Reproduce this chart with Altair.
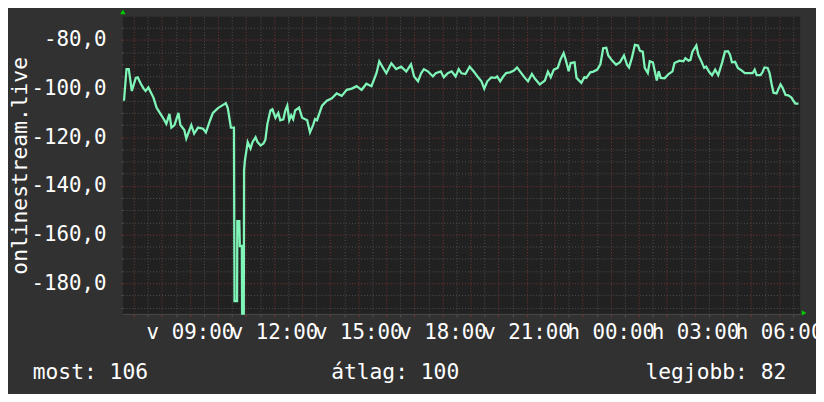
import altair as alt
import pandas as pd

# time in decimal hours since Sunday 00:00 (values > 24 are Monday)
hours = [6.65, 6.74, 6.82, 6.93, 7.07, 7.14, 7.25, 7.35, 7.42, 7.52, 7.70, 7.81, 7.95, 8.06, 8.16, 8.27, 8.34, 8.45,
         8.59, 8.66, 8.80, 8.87, 9.05, 9.15, 9.29, 9.47, 9.57, 9.72, 9.82, 10.00, 10.14, 10.28, 10.35, 10.46, 10.57,
         10.59, 10.68, 10.69, 10.76, 10.78, 10.85, 10.86, 10.92, 10.93, 10.96, 11.06, 11.16, 11.23, 11.34, 11.41,
         11.52, 11.62, 11.69, 11.76, 11.87, 11.94, 12.05, 12.15, 12.22, 12.33, 12.40, 12.47, 12.54, 12.61, 12.68,
         12.75, 12.89, 13.00, 13.18, 13.28, 13.39, 13.46, 13.53, 13.71, 13.88, 14.06, 14.23, 14.41, 14.59, 14.77,
         14.94, 15.12, 15.29, 15.47, 15.65, 15.75, 15.86, 16.00, 16.18, 16.35, 16.53, 16.71, 16.88, 16.99, 17.13,
         17.24, 17.34, 17.48, 17.66, 17.76, 17.94, 18.05, 18.19, 18.33, 18.47, 18.58, 18.68, 18.82, 18.97, 19.11,
         19.25, 19.39, 19.49, 19.60, 19.74, 19.88, 19.95, 20.06, 20.17, 20.27, 20.41, 20.55, 20.66, 20.77, 20.94,
         21.05, 21.19, 21.30, 21.47, 21.65, 21.76, 21.86, 21.97, 22.11, 22.21, 22.32, 22.39, 22.50, 22.57, 22.71,
         22.78, 22.95, 23.06, 23.13, 23.27, 23.38, 23.52, 23.63, 23.73, 23.84, 23.91, 24.05, 24.19, 24.33, 24.47,
         24.58, 24.65, 24.75, 24.86, 24.97, 25.04, 25.14, 25.21, 25.32, 25.39, 25.50, 25.57, 25.64, 25.71, 25.78,
         25.92, 26.06, 26.20, 26.27, 26.45, 26.59, 26.66, 26.77, 26.84, 26.91, 27.05, 27.12, 27.23, 27.33, 27.40,
         27.51, 27.61, 27.72, 27.83, 27.97, 28.07, 28.18, 28.25, 28.32, 28.43, 28.53, 28.67, 28.78, 28.92, 29.06,
         29.13, 29.20, 29.34, 29.41, 29.48, 29.59, 29.66, 29.73, 29.80, 29.91, 29.98, 30.05, 30.12, 30.23, 30.33,
         30.44, 30.51, 30.58, 30.69]

signal = [-105, -92, -92, -101, -95.6, -95.4, -98, -100, -101, -99.5, -103.7, -107.8, -110.4, -112.4, -114.5, -110.4,
          -116, -115, -110, -115, -117, -120.5, -115, -118.5, -116, -116.5, -118, -113, -110, -108, -107, -106, -108,
          -116, -116, -187.3, -187.3, -154.5, -154.5, -164.7, -164.7, -192.5, -192.5, -133.6, -129.5, -122, -124.6,
          -122, -120, -122, -123.4, -122.6, -121, -114.6, -109, -108.5, -112, -110, -113, -112.6, -109, -107, -113,
          -111, -112.6, -109, -107.8, -112, -113, -118, -115, -112.5, -113, -107, -105, -104, -102, -103, -100.5,
          -100, -99, -100.5, -98, -99, -93.7, -88.8, -91, -93.7, -89.6, -92, -91, -93, -90, -95, -97, -93.7, -92,
          -92.9, -95, -93.7, -92.9, -95.4, -93.7, -92.9, -95, -92, -93.7, -94, -91, -92.9, -95, -97, -100, -97,
          -95.4, -95.6, -95, -97, -95, -93.6, -93.3, -92.6, -91.3, -93, -95.6, -97, -94, -96, -98.3, -96.7, -93,
          -95.3, -92.2, -91.5, -88, -85.4, -88, -92.9, -89.5, -89.2, -95.6, -97.6, -95.3, -95.6, -93.3, -93, -92.2,
          -90, -83.4, -83.2, -86.4, -88.5, -90.2, -89.1, -86.4, -90.2, -91.3, -87.5, -82, -82.3, -84.5, -84.8,
          -91.5, -93.6, -88.8, -89.2, -92.9, -96.7, -92.9, -95.6, -95.8, -94, -92.9, -89.5, -88.5, -88.8, -87.5,
          -88.5, -88.2, -84.8, -82.3, -86.1, -88.8, -91.5, -91, -93.2, -94.5, -92.2, -94.5, -89.2, -84.8, -84.6,
          -86.1, -89.2, -89, -91.5, -92.6, -93.6, -93.6, -93.6, -92.2, -94.5, -94.5, -93.2, -91.3, -91.5, -93.6,
          -98, -101.7, -102, -100, -98.3, -99.6, -102.6, -102.8, -103.7, -105, -106.2, -106.2]

x_domain = [6.61, 30.75]
y_domain = [-192.6, -70.5]

x_label_hours = [9, 12, 15, 18, 21, 24, 27, 30]
x_label_text = ["v 09:00", "v 12:00", "v 15:00", "v 18:00", "v 21:00", "h 00:00", "h 03:00", "h 06:00"]

y_label_values = [-180, -160, -140, -120, -100, -80]
y_label_text = ["-180,0", "-160,0", "-140,0", "-120,0", "-100,0", "-80,0"]

footer_text = ["most: 106", "átlag: 100", "legjobb: 82"]
y_title = "onlinestream.live"

FONT = "DejaVu Sans Mono"
LINE = "#7ff5b8"
MAJOR = "#7a3636"
MINOR = "#505050"

df = pd.DataFrame({"h": hours, "v": signal})

x_ticks = [7 + 0.5 * i for i in range(48)]
y_ticks = list(range(-190, -70, 5))


def chain(vals, texts):
    expr = "''"
    for v, t in reversed(list(zip(vals, texts))):
        expr = f"datum.value == {v} ? '{t}' : ({expr})"
    return expr


x_axis = alt.Axis(
    values=x_ticks, labelExpr=chain(x_label_hours, x_label_text), title=None,
    grid=True, gridDash=[1, 2], gridWidth=1,
    gridColor={"condition": {"test": "datum.value % 1 == 0", "value": MAJOR}, "value": MINOR},
    ticks=True, tickSize=3, tickWidth=1,
    tickColor={"condition": {"test": "datum.value % 1 == 0", "value": MAJOR}, "value": MINOR},
    domain=True, domainColor="#4a4a4a", labelOverlap=False, labelFlush=False,
    labelFont=FONT, labelFontSize=21, labelColor="#ffffff", labelPadding=5,
    labelBaseline="top",
)

y_axis = alt.Axis(
    values=y_ticks, labelExpr=chain(y_label_values, y_label_text),
    title=y_title, titleFont=FONT, titleFontSize=21.5, titleColor="#ffffff", titleFontWeight="normal",
    titleX=-97, titleY=150, titleAngle=270, titleAlign="center", titleBaseline="alphabetic",
    grid=True, gridDash=[1, 2], gridWidth=1,
    gridColor={"condition": {"test": "datum.value % 20 == 0", "value": MAJOR}, "value": MINOR},
    ticks=True, tickSize=2, tickWidth=1,
    tickColor={"condition": {"test": "datum.value % 20 == 0", "value": MAJOR}, "value": MINOR},
    domain=False, labelOverlap=False, labelFlush=False,
    labelFont=FONT, labelFontSize=21, labelColor="#ffffff", labelPadding=15,
)

x_scale = alt.Scale(domain=x_domain, nice=False, zero=False)
y_scale = alt.Scale(domain=y_domain, nice=False, zero=False)

line = alt.Chart(df).mark_line(color=LINE, strokeWidth=2.3).encode(
    x=alt.X("h:Q", scale=x_scale, axis=x_axis),
    y=alt.Y("v:Q", scale=y_scale, axis=y_axis),
)

arrow_up = alt.Chart(pd.DataFrame({"a": [0]})).mark_point(
    shape="triangle-up", filled=True, color="#00cc00", size=30, opacity=1, yOffset=-5
).encode(x=alt.XDatum(x_domain[0], type="quantitative", scale=x_scale, axis=x_axis),
         y=alt.YDatum(y_domain[1], type="quantitative", scale=y_scale, axis=y_axis))

arrow_right = alt.Chart(pd.DataFrame({"a": [0]})).mark_point(
    shape="triangle-right", filled=True, color="#00cc00", size=30, opacity=1, xOffset=4, yOffset=-1
).encode(x=alt.XDatum(x_domain[1], type="quantitative", scale=x_scale, axis=x_axis),
         y=alt.YDatum(y_domain[0], type="quantitative", scale=y_scale, axis=y_axis))

foot_df = pd.DataFrame({"t": footer_text})
foot_kw = dict(font=FONT, fontSize=21.5, color="#ffffff", baseline="alphabetic")
foot_left = alt.Chart(foot_df.iloc[[0]]).mark_text(align="left", **foot_kw).encode(
    text="t:N", x=alt.value(-91), y=alt.value(366))
foot_mid = alt.Chart(foot_df.iloc[[1]]).mark_text(align="center", **foot_kw).encode(
    text="t:N", x=alt.value(275), y=alt.value(366))
foot_right = alt.Chart(foot_df.iloc[[2]]).mark_text(align="right", **foot_kw).encode(
    text="t:N", x=alt.value(670), y=alt.value(366))

chart = alt.layer(line, arrow_up, arrow_right, foot_left, foot_mid, foot_right).properties(
    width=684, height=300,
    autosize=alt.AutoSizeParams(type="none"),
    padding={"left": 116, "top": 7, "right": 16, "bottom": 79},
    background="#313131",
    usermeta={"embedOptions": {"defaultStyle": "body{background:#313131;}"}},
).configure_view(fill="#212121", stroke=None)

chart.save("out.html", embed_options={"renderer": "svg", "actions": False})
